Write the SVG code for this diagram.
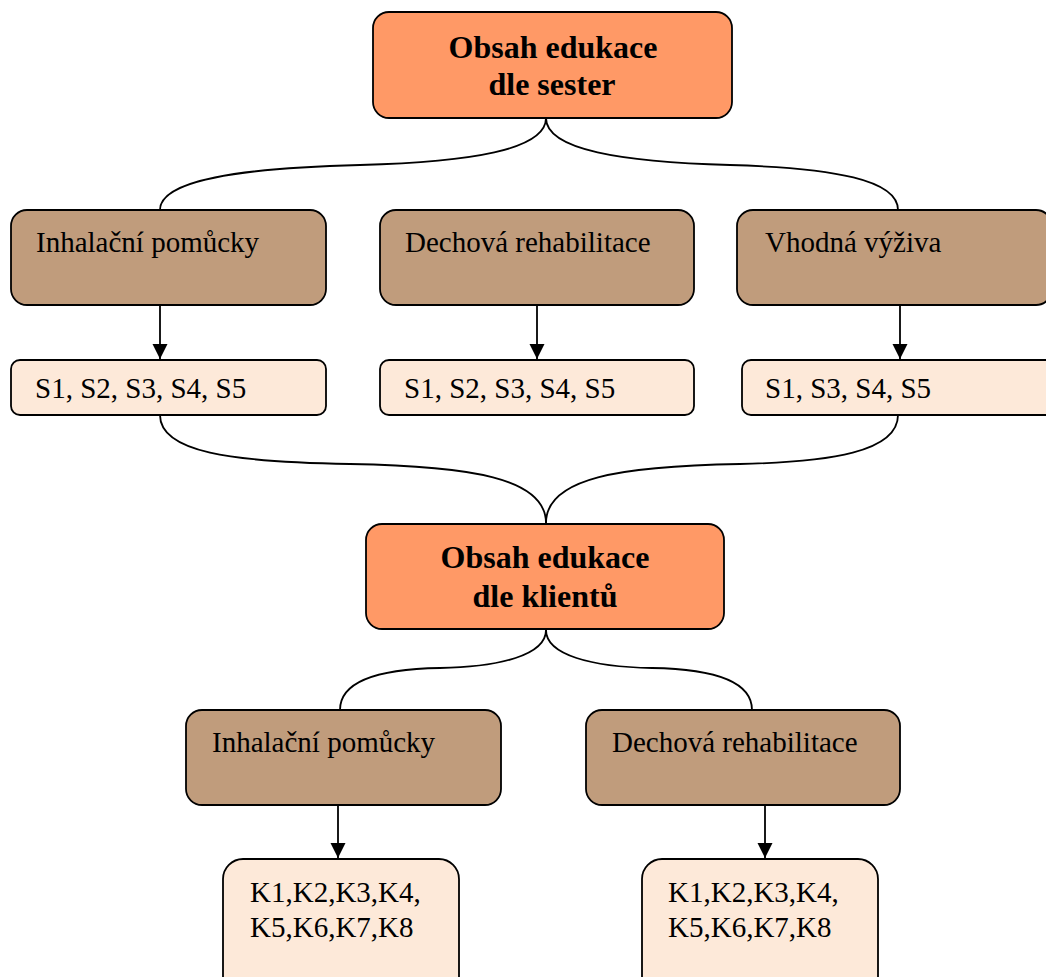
<svg xmlns="http://www.w3.org/2000/svg" width="1046" height="977" viewBox="0 0 1046 977">
<style>
.box{stroke:#000;stroke-width:1.8}
.org{fill:#FF9966}
.brn{fill:#C09C7C}
.lt{fill:#FDE9D9}
.t{font-family:"Liberation Serif","Times New Roman",serif;font-size:29px;fill:#000}
.tb{font-family:"Liberation Serif","Times New Roman",serif;font-size:32px;font-weight:bold;fill:#000;text-anchor:middle}
.c{fill:none;stroke:#000;stroke-width:1.8}
</style>
<defs>
<marker id="ah" markerUnits="userSpaceOnUse" markerWidth="16" markerHeight="17" refX="15" refY="7.5" orient="auto">
<path d="M0,0 L15,7.5 L0,15 Z" fill="#000"/>
</marker>
</defs>
<g id="connectors">
<path class="c" d="M546,118 C546,150 470,162 360,165 C240,168 160,180 160,210"/>
<path class="c" d="M546,118 C546,150 622,162 730,165 C835,168 898,180 898,210"/>
<line class="c" x1="160" y1="306" x2="160" y2="359" marker-end="url(#ah)"/>
<line class="c" x1="537" y1="306" x2="537" y2="359" marker-end="url(#ah)"/>
<line class="c" x1="900" y1="306" x2="900" y2="359" marker-end="url(#ah)"/>
<path class="c" d="M160,415 C160,452 230,462 350,464 C470,466 546,478 546,523"/>
<path class="c" d="M898,415 C898,452 830,462 740,464 C620,466 546,478 546,523"/>
<path class="c" d="M546,630 C546,655 500,667 440,668 C380,669 340,680 340,710"/>
<path class="c" d="M546,630 C546,655 592,667 652,668 C712,669 752,680 752,710"/>
<line class="c" x1="338" y1="806" x2="338" y2="858" marker-end="url(#ah)"/>
<line class="c" x1="765" y1="806" x2="765" y2="858" marker-end="url(#ah)"/>
</g>
<g id="top">
<rect class="box org" x="373" y="12" width="359" height="106" rx="16"/>
<text class="tb" x="553" y="58">Obsah edukace</text>
<text class="tb" x="552" y="95">dle sester</text>
</g>
<g id="s-inhal">
<rect class="box brn" x="11" y="210" width="315" height="95" rx="16"/>
<text class="t" x="36" y="252">Inhalační pomůcky</text>
</g>
<g id="s-dech">
<rect class="box brn" x="380" y="210" width="314" height="95" rx="16"/>
<text class="t" x="405" y="252">Dechová rehabilitace</text>
</g>
<g id="s-vyziva">
<rect class="box brn" x="737" y="210" width="315" height="95" rx="16"/>
<text class="t" x="765" y="252">Vhodná výživa</text>
</g>
<g id="s-list1">
<rect class="box lt" x="11" y="360" width="315" height="55" rx="9"/>
<text class="t" x="35" y="398">S1, S2, S3, S4, S5</text>
</g>
<g id="s-list2">
<rect class="box lt" x="380" y="360" width="314" height="55" rx="9"/>
<text class="t" x="404" y="398">S1, S2, S3, S4, S5</text>
</g>
<g id="s-list3">
<rect class="box lt" x="742" y="360" width="315" height="55" rx="9"/>
<text class="t" x="765" y="398">S1, S3, S4, S5</text>
</g>
<g id="bottom">
<rect class="box org" x="366" y="524" width="358" height="105" rx="16"/>
<text class="tb" x="545" y="568">Obsah edukace</text>
<text class="tb" x="545" y="607">dle klientů</text>
</g>
<g id="k-inhal">
<rect class="box brn" x="186" y="710" width="315" height="95" rx="16"/>
<text class="t" x="212" y="752">Inhalační pomůcky</text>
</g>
<g id="k-dech">
<rect class="box brn" x="586" y="710" width="314" height="95" rx="16"/>
<text class="t" x="612" y="752">Dechová rehabilitace</text>
</g>
<g id="k-list1">
<rect class="box lt" x="223" y="859" width="236" height="140" rx="20"/>
<text class="t" x="250" y="902">K1,K2,K3,K4,</text>
<text class="t" x="250" y="937">K5,K6,K7,K8</text>
</g>
<g id="k-list2">
<rect class="box lt" x="642" y="859" width="236" height="140" rx="20"/>
<text class="t" x="668" y="902">K1,K2,K3,K4,</text>
<text class="t" x="668" y="937">K5,K6,K7,K8</text>
</g>
</svg>
